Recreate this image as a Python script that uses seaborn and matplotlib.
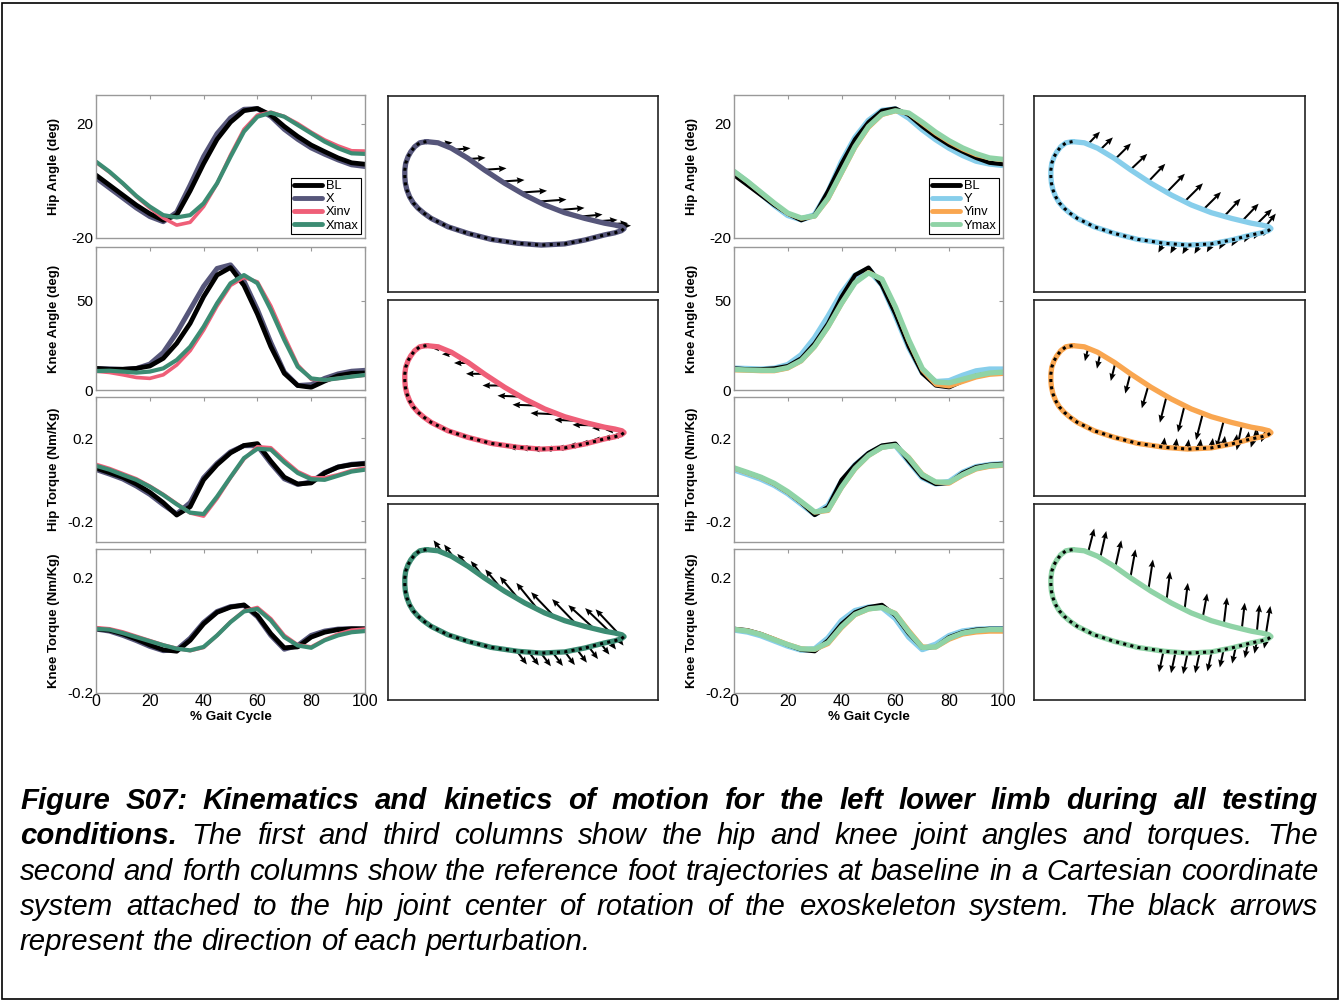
import matplotlib
matplotlib.use("Agg")
import matplotlib.pyplot as plt
from matplotlib.patches import Rectangle
from matplotlib.lines import Line2D
import seaborn as sns

sns.set_style("white")
plt.rcParams["font.family"] = ["Liberation Sans", "DejaVu Sans"]
plt.rcParams["axes.unicode_minus"] = False
plt.rcParams["text.color"] = "black"
plt.rcParams["axes.labelcolor"] = "black"
plt.rcParams["xtick.labelcolor"] = "black"
plt.rcParams["ytick.labelcolor"] = "black"

W, H = 1341, 1001

# ---------------- gait curves (every 5 % of the cycle)
gait = [0, 5, 10, 15, 20, 25, 30, 35, 40, 45, 50, 55, 60, 65, 70, 75, 80, 85, 90, 95, 100]

hip_angle_bl = [2.0, -1.5, -5.0, -8.5, -11.5, -13.8, -12.0, -3.5, 6.0, 14.5, 20.5, 24.5, 25.3, 23.0, 19.0, 15.5, 12.5, 10.2, 8.0, 6.3, 5.8]
hip_angle_x = [1.0, -2.5, -6.0, -9.5, -12.5, -14.3, -11.0, -1.5, 8.5, 16.5, 22.0, 25.0, 25.2, 22.5, 18.0, 14.5, 11.5, 9.3, 7.3, 5.6, 5.0]
hip_angle_xinv = [6.5, 3.0, -1.0, -5.5, -9.5, -13.0, -15.5, -14.5, -9.0, -1.0, 9.0, 18.0, 23.0, 24.0, 22.5, 20.0, 17.0, 14.3, 12.2, 10.5, 10.4]
hip_angle_xmax = [6.7, 3.2, -0.9, -5.3, -9.0, -12.0, -12.8, -12.0, -7.9, -0.9, 8.4, 17.2, 22.4, 23.8, 22.4, 19.5, 16.6, 13.7, 11.4, 9.6, 9.4]
hip_angle_y = [3.0, -0.5, -4.5, -8.5, -12.0, -13.5, -12.0, -4.0, 6.5, 15.0, 21.0, 24.5, 25.0, 22.0, 18.0, 14.5, 11.5, 9.0, 7.0, 6.0, 5.5]
hip_angle_yinv = [3.2, -0.3, -4.2, -8.0, -11.5, -13.2, -12.5, -6.5, 2.5, 11.5, 18.5, 23.0, 24.3, 23.5, 20.0, 16.5, 13.5, 11.0, 9.0, 7.8, 7.2]
hip_angle_ymax = [3.3, -0.2, -4.0, -7.8, -11.3, -13.0, -12.3, -6.0, 3.0, 12.0, 19.0, 23.3, 24.5, 23.7, 20.5, 17.0, 14.0, 11.5, 9.5, 8.0, 7.5]

knee_angle_bl = [12.1, 11.6, 11.6, 12.1, 13.4, 17.7, 26.1, 37.3, 52.2, 64.3, 68.5, 58.5, 42.5, 24.2, 9.3, 2.5, 1.5, 5.0, 8.0, 9.3, 9.5]
knee_angle_x = [12.0, 11.8, 11.5, 12.0, 14.5, 21.0, 32.0, 45.0, 58.0, 68.0, 70.0, 61.0, 45.0, 26.5, 10.0, 2.5, 3.0, 6.5, 9.0, 10.5, 11.0]
knee_angle_xinv = [10.5, 9.8, 8.5, 7.0, 6.5, 8.5, 14.0, 22.0, 33.5, 47.0, 58.5, 63.0, 60.5, 47.0, 30.0, 14.0, 6.0, 5.5, 6.5, 7.5, 8.3]
knee_angle_xmax = [10.6, 10.8, 10.3, 9.7, 10.3, 12.1, 16.8, 24.2, 35.4, 48.5, 59.7, 64.3, 59.7, 44.8, 28.0, 13.0, 6.5, 5.6, 6.5, 7.5, 8.4]
knee_angle_y = [12.0, 11.8, 11.5, 12.0, 14.0, 19.5, 29.0, 41.0, 54.0, 64.0, 67.5, 59.0, 42.0, 24.0, 10.0, 4.5, 5.0, 8.0, 10.5, 11.5, 11.5]
knee_angle_yinv = [11.0, 10.8, 10.5, 10.5, 12.0, 16.0, 24.0, 35.0, 48.0, 60.0, 66.0, 62.0, 46.0, 27.0, 11.0, 3.0, 2.0, 4.5, 7.0, 8.5, 9.0]
knee_angle_ymax = [11.5, 11.2, 11.0, 11.0, 12.5, 16.5, 24.5, 35.5, 48.5, 60.0, 65.5, 62.0, 46.5, 28.0, 12.0, 4.5, 4.0, 6.0, 8.0, 9.5, 10.0]

hip_torque_bl = [0.057, 0.035, 0.012, -0.02, -0.06, -0.11, -0.17, -0.13, 0.0, 0.073, 0.13, 0.166, 0.175, 0.09, 0.013, -0.02, -0.015, 0.033, 0.062, 0.073, 0.078]
hip_torque_x = [0.05, 0.028, 0.004, -0.03, -0.07, -0.12, -0.165, -0.11, 0.01, 0.08, 0.135, 0.165, 0.165, 0.08, 0.005, -0.022, -0.01, 0.035, 0.062, 0.075, 0.08]
hip_torque_xinv = [0.075, 0.055, 0.03, 0.005, -0.03, -0.07, -0.115, -0.16, -0.175, -0.09, 0.01, 0.1, 0.16, 0.155, 0.095, 0.04, 0.01, 0.01, 0.025, 0.045, 0.057]
hip_torque_xmax = [0.068, 0.049, 0.024, 0.0, -0.033, -0.073, -0.118, -0.158, -0.165, -0.081, 0.013, 0.105, 0.15, 0.146, 0.085, 0.033, 0.003, 0.0, 0.02, 0.04, 0.049]
hip_torque_y = [0.05, 0.028, 0.005, -0.025, -0.065, -0.115, -0.165, -0.125, -0.01, 0.07, 0.125, 0.16, 0.168, 0.09, 0.012, -0.018, -0.01, 0.035, 0.062, 0.072, 0.076]
hip_torque_yinv = [0.055, 0.033, 0.01, -0.02, -0.06, -0.108, -0.158, -0.15, -0.04, 0.05, 0.115, 0.155, 0.165, 0.11, 0.03, -0.012, -0.018, 0.02, 0.05, 0.063, 0.068]
hip_torque_ymax = [0.058, 0.036, 0.013, -0.017, -0.057, -0.105, -0.155, -0.145, -0.035, 0.055, 0.118, 0.157, 0.166, 0.105, 0.025, -0.01, -0.012, 0.025, 0.055, 0.068, 0.072]

knee_torque_bl = [0.023, 0.018, 0.005, -0.013, -0.033, -0.05, -0.055, -0.017, 0.04, 0.08, 0.098, 0.106, 0.069, 0.006, -0.043, -0.04, -0.006, 0.011, 0.02, 0.023, 0.023]
knee_torque_x = [0.022, 0.015, 0.0, -0.018, -0.038, -0.053, -0.05, -0.01, 0.045, 0.083, 0.1, 0.104, 0.065, 0.0, -0.048, -0.035, 0.0, 0.015, 0.022, 0.023, 0.022]
knee_torque_xinv = [0.027, 0.023, 0.012, -0.003, -0.018, -0.033, -0.045, -0.053, -0.042, 0.0, 0.047, 0.085, 0.097, 0.058, 0.0, -0.033, -0.04, -0.015, 0.005, 0.018, 0.022]
knee_torque_xmax = [0.023, 0.02, 0.008, -0.006, -0.02, -0.034, -0.046, -0.052, -0.04, 0.0, 0.046, 0.083, 0.092, 0.052, -0.006, -0.035, -0.043, -0.017, 0.0, 0.011, 0.015]
knee_torque_y = [0.02, 0.013, 0.0, -0.018, -0.036, -0.05, -0.048, -0.01, 0.05, 0.085, 0.097, 0.098, 0.06, -0.005, -0.048, -0.032, -0.002, 0.014, 0.02, 0.022, 0.022]
knee_torque_yinv = [0.022, 0.017, 0.005, -0.012, -0.03, -0.045, -0.05, -0.03, 0.025, 0.07, 0.09, 0.097, 0.078, 0.018, -0.038, -0.042, -0.015, 0.003, 0.01, 0.013, 0.013]
knee_torque_ymax = [0.021, 0.015, 0.003, -0.015, -0.032, -0.047, -0.048, -0.025, 0.03, 0.073, 0.092, 0.097, 0.075, 0.012, -0.042, -0.04, -0.01, 0.008, 0.016, 0.02, 0.02]

# ---------------- foot trajectory at baseline (cm, hip frame)
stance_x = [-32.2, -34.4, -36.1, -37.4, -38.3, -39.1, -39.4, -39.4, -39.2, -38.7, -37.8, -36.6, -35.0, -33.0, -30.6, -25.0, -18.3, -10.6, -1.7, 6.1, 13.9, 20.6, 27.2, 30.6, 32.8, 33.7]
stance_y = [-50.2, -50.6, -51.9, -53.6, -55.2, -57.4, -59.7, -61.9, -64.1, -66.3, -68.6, -70.6, -72.4, -74.1, -75.8, -78.6, -80.8, -82.8, -84.1, -84.7, -84.3, -83.0, -81.3, -80.6, -79.9, -79.2]
swing_x = [33.7, 33.0, 30.6, 27.2, 20.6, 13.9, 7.2, 0.6, -6.1, -12.8, -18.3, -23.9, -28.3, -32.2]
swing_y = [-79.2, -78.6, -78.0, -77.4, -75.8, -73.9, -71.3, -68.0, -64.1, -59.7, -55.8, -52.4, -50.6, -50.2]

# arrow origins on the swing (upper) and late stance (lower) branches
upper_x = [-27, -23, -18, -13, -7, -1, 5, 11, 18, 24, 29, 32]
upper_y = [-51.0, -52.9, -56.0, -59.6, -63.5, -67.2, -70.2, -73.1, -75.3, -76.8, -77.7, -78.4]
lower_x = [-2, 2, 6, 10, 14, 18, 22, 26, 29, 32]
lower_y = [-84.1, -84.4, -84.7, -84.6, -84.3, -83.5, -82.7, -81.6, -80.9, -80.2]

# perturbation vectors (cm)
x_up_u = [3.5, 5.5, 5.5, 7.5, 7.5, 9.0, 9.5, 9.5, 8.5, 7.5, 6.0, 4.0]
x_up_v = [0.5, 0.5, 0.4, 0.5, 0.5, 0.6, 0.7, 0.8, 0.8, 0.5, 0.3, 0.2]
xinv_up_u = [-3.5, -4.0, -5.0, -6.0, -6.5, -7.5, -8.5, -8.5, -7.5, -7.5, -6.0, -4.5]
xinv_up_v = [0.0, -0.2, 0.0, 0.0, 0.0, 0.3, 0.3, 0.4, 0.4, 0.2, 0.0, 0.0]
xinv_lo_u = [-3.0, -3.0, -3.0, -3.0, -3.0, -3.0, -3.0, -3.0, -2.5, -2.5]
xinv_lo_v = [0.0, 0.0, 0.0, 0.0, 0.0, 0.0, 0.0, 0.0, 0.0, 0.0]
xmax_up_u = [-2.8, -3.3, -3.9, -4.4, -5.6, -6.7, -7.2, -8.3, -8.3, -8.9, -8.3, -7.8]
xmax_up_v = [3.9, 4.4, 4.4, 5.6, 6.7, 8.0, 8.9, 8.7, 8.6, 8.1, 8.0, 8.3]
xmax_lo_u = [3.3, 3.3, 3.3, 3.3, 3.3, 3.3, 3.0, 2.8, 2.0, 1.5]
xmax_lo_v = [-4.4, -4.4, -4.4, -4.4, -4.4, -4.4, -4.0, -3.6, -2.6, -2.0]
y_up_u = [3.9, 4.2, 5.2, 5.6, 5.6, 6.1, 6.1, 6.1, 5.6, 5.6, 5.0, 3.3]
y_up_v = [4.1, 4.1, 5.2, 5.3, 5.9, 6.3, 6.1, 6.1, 6.1, 5.9, 5.0, 4.2]
y_lo_u = [-1.7, -1.7, -1.7, -1.7, -1.6, -1.5, -1.4, -1.2, -1.0, -0.8]
y_lo_v = [-3.1, -3.1, -3.0, -3.0, -2.8, -2.6, -2.4, -2.2, -1.8, -1.5]
yinv_up_u = [-1.1, -1.1, -1.5, -1.7, -2.2, -2.2, -2.2, -2.2, -2.4, -1.7, -2.0, -1.6]
yinv_up_v = [-4.4, -5.0, -6.0, -6.6, -7.6, -8.7, -8.9, -8.6, -9.1, -8.3, -6.5, -4.0]
yinv_lo_u = [0.4, 0.4, 0.4, 0.4, 0.4, 0.4, 0.4, 0.3, 0.3, 0.3]
yinv_lo_v = [3.3, 3.3, 3.3, 3.3, 3.3, 3.2, 3.0, 2.8, 2.5, 2.2]
ymax_up_u = [2.0, 2.0, 2.0, 1.7, 1.5, 1.2, 1.1, 1.5, 1.1, 1.0, 0.9, 1.5]
ymax_up_v = [7.8, 8.9, 8.9, 9.5, 10.0, 9.7, 8.9, 8.3, 9.2, 8.9, 9.2, 9.4]
ymax_lo_u = [-1.5, -1.5, -1.5, -1.5, -1.4, -1.3, -1.2, -1.0, -0.8, -0.6]
ymax_lo_v = [-7.0, -7.0, -7.0, -6.8, -6.5, -6.0, -5.5, -4.8, -4.0, -3.0]

# colours
c_bl = "#000000"
c_x, c_xinv, c_xmax = "#56567a", "#ef5f78", "#3c8c73"
c_y, c_yinv, c_ymax = "#87ceeb", "#f9a650", "#8fd3a6"

caption_lines = [
    [("Figure S07: Kinematics and kinetics of motion for the left lower limb during all testing", "bold")],
    [("conditions.", "bold"), ("The first and third columns show the hip and knee joint angles and torques. The", "normal")],
    [("second and forth columns show the reference foot trajectories at baseline in a Cartesian coordinate", "normal")],
    [("system attached to the hip joint center of rotation of the exoskeleton system. The black arrows", "normal")],
    [("represent the direction of each perturbation.", "normal")],
]

fig = plt.figure(figsize=(W / 100, H / 100), dpi=100)
fig.add_artist(Rectangle((2 / W, 2 / H), (W - 5) / W, (H - 5) / H, transform=fig.transFigure,
                         fill=False, edgecolor="black", lw=1.2))


def px_axes(x0, y0, x1, y1):
    return fig.add_axes([x0 / W, 1 - y1 / H, (x1 - x0) / W, (y1 - y0) / H])


rows = [(95, 238), (247, 390), (397, 542), (549, 693)]
ylabels = ["Hip Angle (deg)", "Knee Angle (deg)", "Hip Torque (Nm/Kg)", "Knee Torque (Nm/Kg)"]
ylims = [(-20, 30), (0, 80), (-0.3, 0.4), (-0.2, 0.3)]
yticks = [([-20, 20], ["-20", "20"]), ([0, 50], ["0", "50"]),
          ([-0.2, 0.2], ["-0.2", "0.2"]), ([-0.2, 0.2], ["-0.2", "0.2"])]

groups = [
    (96, 365, ["BL", "X", "Xinv", "Xmax"], [c_bl, c_x, c_xinv, c_xmax], [3.4, 3.6, 2.6, 3.0], [
        [hip_angle_bl, hip_angle_x, hip_angle_xinv, hip_angle_xmax],
        [knee_angle_bl, knee_angle_x, knee_angle_xinv, knee_angle_xmax],
        [hip_torque_bl, hip_torque_x, hip_torque_xinv, hip_torque_xmax],
        [knee_torque_bl, knee_torque_x, knee_torque_xinv, knee_torque_xmax]]),
    (734, 1003, ["BL", "Y", "Yinv", "Ymax"], [c_bl, c_y, c_yinv, c_ymax], [3.0, 4.4, 3.0, 3.8], [
        [hip_angle_bl, hip_angle_y, hip_angle_yinv, hip_angle_ymax],
        [knee_angle_bl, knee_angle_y, knee_angle_yinv, knee_angle_ymax],
        [hip_torque_bl, hip_torque_y, hip_torque_yinv, hip_torque_ymax],
        [knee_torque_bl, knee_torque_y, knee_torque_yinv, knee_torque_ymax]]),
]

for x0, x1, names, colors, widths, panels in groups:
    for r, (y0, y1) in enumerate(rows):
        ax = px_axes(x0, y0, x1, y1)
        series = panels[r]
        for k in [1, 0, 2, 3]:
            sns.lineplot(x=gait, y=series[k], color=colors[k], lw=widths[k], ax=ax,
                         legend=False, solid_joinstyle="round", solid_capstyle="round")
        ax.set_xlim(0, 100)
        ax.set_ylim(*ylims[r])
        ax.set_xticks([0, 20, 40, 60, 80, 100])
        ax.set_yticks(yticks[r][0])
        ax.set_yticklabels(yticks[r][1])
        ax.tick_params(direction="in", length=3, color="#999999", top=True, right=True,
                       labelsize=11, pad=2)
        for s in ax.spines.values():
            s.set_color("#999999")
            s.set_linewidth(1.0)
        ax.set_ylabel(ylabels[r], fontsize=9.5, fontweight="bold")
        ax.yaxis.set_label_coords(-36 / (x1 - x0), 0.5)
        if r == 3:
            ax.set_xticklabels(["0", "20", "40", "60", "80", "100"])
            ax.tick_params(axis="x", labelsize=11.5, pad=1)
            ax.set_xlabel("% Gait Cycle", fontsize=9.7, fontweight="bold", labelpad=1)
        else:
            ax.set_xticklabels([])
            ax.set_xlabel("")
        if r == 0:
            handles = [Line2D([], [], color=c, lw=3.5) for c in colors]
            leg = ax.legend(handles, names, loc="lower right", fontsize=9.3, handlelength=2.2,
                            handletextpad=0.25, labelspacing=0.08, borderpad=0.2,
                            borderaxespad=0.3, fancybox=False, framealpha=1)
            leg.get_frame().set_edgecolor("black")
            leg.get_frame().set_linewidth(0.8)

traj_rows = [(96, 292), (300, 496), (504, 700)]
traj_groups = [
    (388, 658, [c_x, c_xinv, c_xmax], [
        (x_up_u, x_up_v, None, None),
        (xinv_up_u, xinv_up_v, xinv_lo_u, xinv_lo_v),
        (xmax_up_u, xmax_up_v, xmax_lo_u, xmax_lo_v)]),
    (1034, 1305, [c_y, c_yinv, c_ymax], [
        (y_up_u, y_up_v, y_lo_u, y_lo_v),
        (yinv_up_u, yinv_up_v, yinv_lo_u, yinv_lo_v),
        (ymax_up_u, ymax_up_v, ymax_lo_u, ymax_lo_v)]),
]
quiver_style = dict(angles="xy", scale_units="xy", scale=1, color="black", width=0.0075,
                    headwidth=3.2, headlength=3.8, headaxislength=3.4)

for x0, x1, colors, arrows in traj_groups:
    for r, (y0, y1) in enumerate(traj_rows):
        ax = px_axes(x0, y0, x1, y1)
        sns.lineplot(x=stance_x + swing_x, y=stance_y + swing_y, sort=False, estimator=None,
                     color=colors[r], lw=3.8, ax=ax, solid_joinstyle="round")
        sns.lineplot(x=stance_x, y=stance_y, sort=False, estimator=None, color="black",
                     lw=2.2, ax=ax)
        ax.lines[-1].set_dashes([1, 1.4])
        up_u, up_v, lo_u, lo_v = arrows[r]
        ax.quiver(upper_x, upper_y, up_u, up_v, **quiver_style)
        if lo_u is not None:
            ax.quiver(lower_x, lower_y, lo_u, lo_v, **quiver_style)
        ax.set_xlim(-45, 45)
        ax.set_ylim(-35 - (y1 - y0) / 3, -35)
        ax.set_xticks([])
        ax.set_yticks([])
        ax.set_xlabel("")
        ax.set_ylabel("")
        for s in ax.spines.values():
            s.set_color("#222222")
            s.set_linewidth(1.2)

# ---------------- justified caption
renderer = fig.canvas.get_renderer()
CAP_FS = 21.2
CAP_X0, CAP_X1 = 20, 1318
cap_base = [809, 844, 880, 915, 950]
for i, segs in enumerate(caption_lines):
    words = []
    for txt, wt in segs:
        words += [(w, wt) for w in txt.split()]
    arts = [fig.text(0, 1 - cap_base[i] / H, w, fontsize=CAP_FS, style="italic",
                     fontweight=wt, va="baseline", ha="left", color="black") for w, wt in words]
    wsum = [a.get_window_extent(renderer).width for a in arts]
    space = 0.278 * CAP_FS * 100 / 72
    if i == len(caption_lines) - 1:
        gap = space
    else:
        gap = max((CAP_X1 - CAP_X0 - sum(wsum)) / (len(words) - 1), 0.6 * space)
    x = CAP_X0
    for a, w in zip(arts, wsum):
        a.set_x(x / W)
        x += w + gap

fig.savefig("out.png", dpi=100)
